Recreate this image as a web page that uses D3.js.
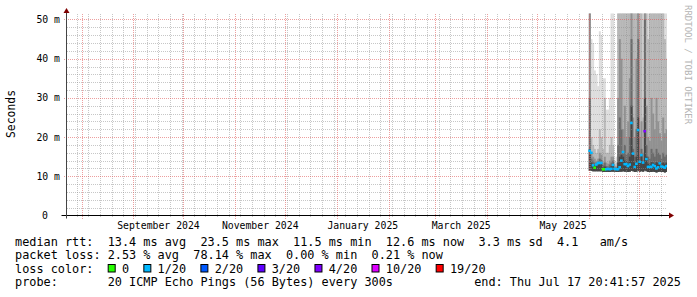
<!DOCTYPE html>
<html>
<head>
<meta charset="utf-8">
<script src="https://cdn.jsdelivr.net/npm/d3@7"></script>
<style>
body { margin: 0; background: #fff; }
text { font-family: "DejaVu Sans Mono", monospace; white-space: pre; }
</style>
</head>
<body>
<svg width="697" height="297"></svg>
<script>
// time span of the graph (last 360 days)
var endTime = new Date(Date.UTC(2025, 6, 17, 20, 41, 57));
var spanDays = 360;
var firstDay = new Date(Date.UTC(2025, 5, 1));   // first day with data

// daily median rtt (ms) and loss bucket (index into lossLabels)
var medianMs = [16.5, 16.0, 12.8, 12.2, 13.0, 13.4, 13.4, 13.4, 11.8, 11.8, 11.8, 11.9, 11.8, 11.9, 12.9, 11.9, 11.8,
                11.8, 12.3, 14.0, 16.2, 13.1, 13.1, 12.6, 13.0, 23.6, 15.8, 12.4, 13.2, 21.8, 13.7, 15.4, 13.5,
                21.5, 14.4, 12.4, 12.4, 12.4, 12.9, 12.6, 12.0, 12.3, 13.3, 12.5, 12.4, 12.2, 12.6];
var lossIdx = [1, 1, 1, 0, 1, 1, 1, 1, 0, 0, 1, 1, 1, 1, 1, 1, 1,
               1, 1, 1, 1, 1, 1, 1, 1, 1, 1, 1, 1, 1, 1, 1, 1,
               4, 1, 1, 1, 1, 1, 1, 1, 1, 1, 1, 1, 1, 1];

// smoke: lowest ping and the top of each smoke band (outer -> inner), ms
var pingLow = [11.4, 11.4, 11.3, 11.3, 11.3, 11.3, 11.3, 11.3, 11.1, 11.1, 11.1, 11.1, 11.1, 11.2, 11.2, 11.2, 11.1,
               11.1, 11.2, 11.2, 11.3, 11.2, 11.2, 11.1, 11.2, 11.4, 11.3, 11.1, 11.2, 11.4, 11.2, 11.3, 11.2,
               11.5, 11.3, 11.1, 11.1, 11.1, 11.2, 11.1, 11.0, 11.1, 11.2, 11.1, 11.1, 11.0, 11.1];
var smokeTop1 = [60, 45, 44, 37, 36, 33, 47, 46, 35, 35, 27, 27, 30, 60, 60, 14, 15,
                 60, 60, 60, 60, 60, 60, 60, 60, 60, 60, 60, 60, 60, 60, 60, 60,
                 60, 60, 60, 60, 60, 60, 60, 60, 60, 60, 60, 60, 60, 60];
var smokeTop2 = [60, 20, 18, 17, 16, 17, 22, 20, 17, 30, 16, 16, 18, 20, 18, 13, 13.5,
                 60, 60, 60, 60, 60, 60, 60, 60, 60, 60, 60, 60, 60, 60, 60, 25,
                 60, 60, 45, 60, 60, 60, 60, 60, 60, 60, 60, 60, 45, 40];
var smokeTop3 = [60, 16, 15, 14.5, 14, 14.5, 16, 15.5, 13.5, 15, 13.5, 13.2, 14, 15, 15, 12.5, 12.5,
                 30, 45, 40, 22, 28, 20, 24, 35, 60, 25, 20, 40, 60, 20, 24, 16,
                 60, 28, 20, 19, 30, 26, 22, 30, 24, 21, 19, 25, 21, 22];
var smokeTop4 = [30, 14.5, 14, 13.5, 13.5, 13.8, 14.5, 14.2, 12.8, 13.5, 12.6, 12.5, 13, 13.5, 14, 12.2, 12.2,
                 18, 25, 22, 16, 18, 15.5, 16, 20, 45, 17, 15, 22, 45, 15, 17, 14,
                 50, 18, 15, 14.5, 17, 16, 15, 17, 16, 15.5, 14.5, 16, 15, 15.5];
var smokeTop5 = [17, 13.5, 13, 12.8, 12.8, 13, 13.5, 13.3, 12.2, 12.5, 12.2, 12.1, 12.2, 12.6, 13.2, 12, 12,
                 13.5, 15, 15.5, 15, 14, 13.8, 13.5, 15, 28, 15.5, 13.5, 15, 25, 14, 15.5, 13.5,
                 30, 15, 13.2, 13, 13.6, 13.5, 13.2, 13.6, 13.4, 13.8, 13.2, 13.5, 13.2, 13.5];

var lossLabels = ['0', '1/20', '2/20', '3/20', '4/20', '10/20', '19/20'];
var lossColors = ['#26ff00', '#00b8ff', '#0059ff', '#5e00ff', '#7e00ff', '#dd00ff', '#ff0000'];
var monthLabels = ['September 2024', 'November 2024', 'January 2025', 'March 2025', 'May 2025'];
var yTicks = [0, 10, 20, 30, 40, 50];
var rttStats = ['13.4 ms avg', '23.5 ms max', '11.5 ms min', '12.6 ms now', '3.3 ms sd', '4.1   am/s'];
var lossStats = ['2.53 % avg', '78.14 % max', '0.00 % min', '0.21 % now'];
var probeText = '20 ICMP Echo Pings (56 Bytes) every 300s';
var endText = 'end: Thu Jul 17 20:41:57 2025';

var smokeTops = [smokeTop1, smokeTop2, smokeTop3, smokeTop4, smokeTop5];
var smokeColors = ['#dddddd', '#b7b7b7', '#919191', '#6b6b6b', '#454545'];

var svg = d3.select('svg');
var plotL = 66.5, plotR = 667, plotT = 13.5, plotB = 215.5;

var startTime = d3.utcDay.offset(endTime, -spanDays);
var x = d3.scaleUtc().domain([startTime, endTime]).range([plotL, plotR]);
var y = d3.scaleLinear().domain([0, 51.53]).range([plotB, plotT]);

svg.append('rect').attr('width', 697).attr('height', 297).attr('fill', '#fff');

svg.append('clipPath').attr('id', 'plot')
  .append('rect').attr('x', plotL).attr('y', plotT).attr('width', plotR - plotL).attr('height', plotB - plotT);

var days = medianMs.map(function(d, i) { return d3.utcDay.offset(firstDay, i); });
var colW = function(i) { return Math.min(x(d3.utcDay.offset(days[i], 1)), plotR) - x(days[i]); };

// smoke bands, outer first so the darker inner ones land on top
var smoke = svg.append('g').attr('clip-path', 'url(#plot)');
smokeTops.forEach(function(tops, b) {
  smoke.append('g').selectAll('rect')
    .data(tops)
    .join('rect')
      .attr('x', function(d, i) { return x(days[i]); })
      .attr('width', function(d, i) { return colW(i) + 0.3; })
      .attr('y', function(d) { return y(d); })
      .attr('height', function(d, i) { return Math.max(0, y(pingLow[i]) - y(d)); })
      .attr('fill', smokeColors[b]);
});

// grid, drawn over the smoke like rrdtool does; dashes start on whole pixels
var grid = svg.append('g');
var px = function(v) { return Math.round(v) + 0.5; };
var minorCol = 'rgba(143,143,143,0.5)', majorCol = 'rgba(222,80,80,0.55)';

var minorY = d3.range(2, 51, 2).filter(function(d) { return d % 10 !== 0; });
grid.selectAll('.my').data(minorY).join('line')
  .attr('x1', 67).attr('x2', plotR)
  .attr('y1', function(d) { return px(y(d)); }).attr('y2', function(d) { return px(y(d)); })
  .attr('stroke', minorCol).attr('stroke-dasharray', '1,1');

var weeks = d3.utcMonday.range(startTime, endTime);
grid.selectAll('.mx').data(weeks).join('line')
  .attr('x1', function(d) { return px(x(d)); }).attr('x2', function(d) { return px(x(d)); })
  .attr('y1', 14).attr('y2', 218)
  .attr('stroke', minorCol).attr('stroke-dasharray', '1,1');

var months = d3.utcMonth.range(startTime, endTime);
grid.selectAll('.Mx').data(months).join('line')
  .attr('x1', function(d) { return px(x(d)); }).attr('x2', function(d) { return px(x(d)); })
  .attr('y1', 14).attr('y2', 219)
  .attr('stroke', majorCol).attr('stroke-dasharray', '1,1');

grid.selectAll('.My').data(yTicks.slice(1)).join('line')
  .attr('x1', 64).attr('x2', plotR)
  .attr('y1', function(d) { return px(y(d)); }).attr('y2', function(d) { return px(y(d)); })
  .attr('stroke', majorCol).attr('stroke-dasharray', '1,1');

// median rtt coloured by loss
svg.append('g').attr('clip-path', 'url(#plot)').selectAll('rect')
  .data(medianMs)
  .join('rect')
    .attr('x', function(d, i) { return x(days[i]) - 0.5; })
    .attr('width', function(d, i) { return colW(i) + 1; })
    .attr('y', function(d) { return y(d) - 1.25; })
    .attr('height', 2.5)
    .attr('fill', function(d, i) { return lossColors[lossIdx[i]]; });

// axes and arrows
svg.append('line').attr('x1', 61.5).attr('x2', 670).attr('y1', plotB).attr('y2', plotB)
  .attr('stroke', '#000');
svg.append('line').attr('x1', plotL).attr('x2', plotL).attr('y1', plotB + 3).attr('y2', 11)
  .attr('stroke', '#444');
svg.append('path').attr('d', 'M669,212.5L674,215.5L669,218.5Z').attr('fill', '#7f0000');
svg.append('path').attr('d', 'M63.5,13L66.5,8L69.5,13Z').attr('fill', '#7f0000');

// y tick labels
svg.append('g').selectAll('text')
  .data(yTicks)
  .join('text')
    .attr('x', function(d) { return d === 0 ? 48 : 60; })
    .attr('y', function(d) { return y(d) + 3.5; })
    .attr('text-anchor', 'end')
    .attr('font-size', 9.8)
    .text(function(d) { return d === 0 ? '0' : d + ' m'; });

// month labels centred on their month
var parseMonth = d3.utcParse('%B %Y');
svg.append('g').selectAll('text')
  .data(monthLabels)
  .join('text')
    .attr('x', function(d) {
      var m = parseMonth(d);
      return (x(m) + x(d3.utcMonth.offset(m, 1))) / 2;
    })
    .attr('y', 229)
    .attr('text-anchor', 'middle')
    .attr('font-size', 9.8)
    .text(function(d) { return d; });

svg.append('text')
  .attr('transform', 'translate(14.5,114) rotate(-90)')
  .attr('text-anchor', 'middle')
  .attr('font-size', 11.4)
  .text('Seconds');

svg.append('text')
  .attr('transform', 'translate(685,5) rotate(90)')
  .attr('font-size', 9)
  .attr('fill', '#b4b4b4')
  .text('RRDTOOL / TOBI OETIKER');

// legend
var lx = 15, cw = 7.13, fs = 11.85;
var legend = svg.append('g').attr('font-size', fs);
legend.append('text').attr('x', lx).attr('y', 245.5)
  .text('median rtt:  ' + rttStats.join('  '));
legend.append('text').attr('x', lx).attr('y', 259)
  .text('packet loss: ' + lossStats.join('  '));

var lossLine = 'loss color:  ';
var boxAt = [];
lossLabels.forEach(function(l) {
  boxAt.push(lossLine.length);
  lossLine += '  ' + l + '  ';
});
legend.append('text').attr('x', lx).attr('y', 272.7).text(lossLine);
legend.selectAll('rect')
  .data(lossColors)
  .join('rect')
    .attr('x', function(d, i) { return lx + boxAt[i] * cw + 0.5; })
    .attr('y', 264.5)
    .attr('width', 7)
    .attr('height', 7.5)
    .attr('fill', function(d) { return d; })
    .attr('stroke', '#000');

legend.append('text').attr('x', lx).attr('y', 286.4)
  .text('probe:       ' + probeText);
legend.append('text').attr('x', 681).attr('y', 286.4)
  .attr('text-anchor', 'end')
  .text(endText);
</script>
</body>
</html>
